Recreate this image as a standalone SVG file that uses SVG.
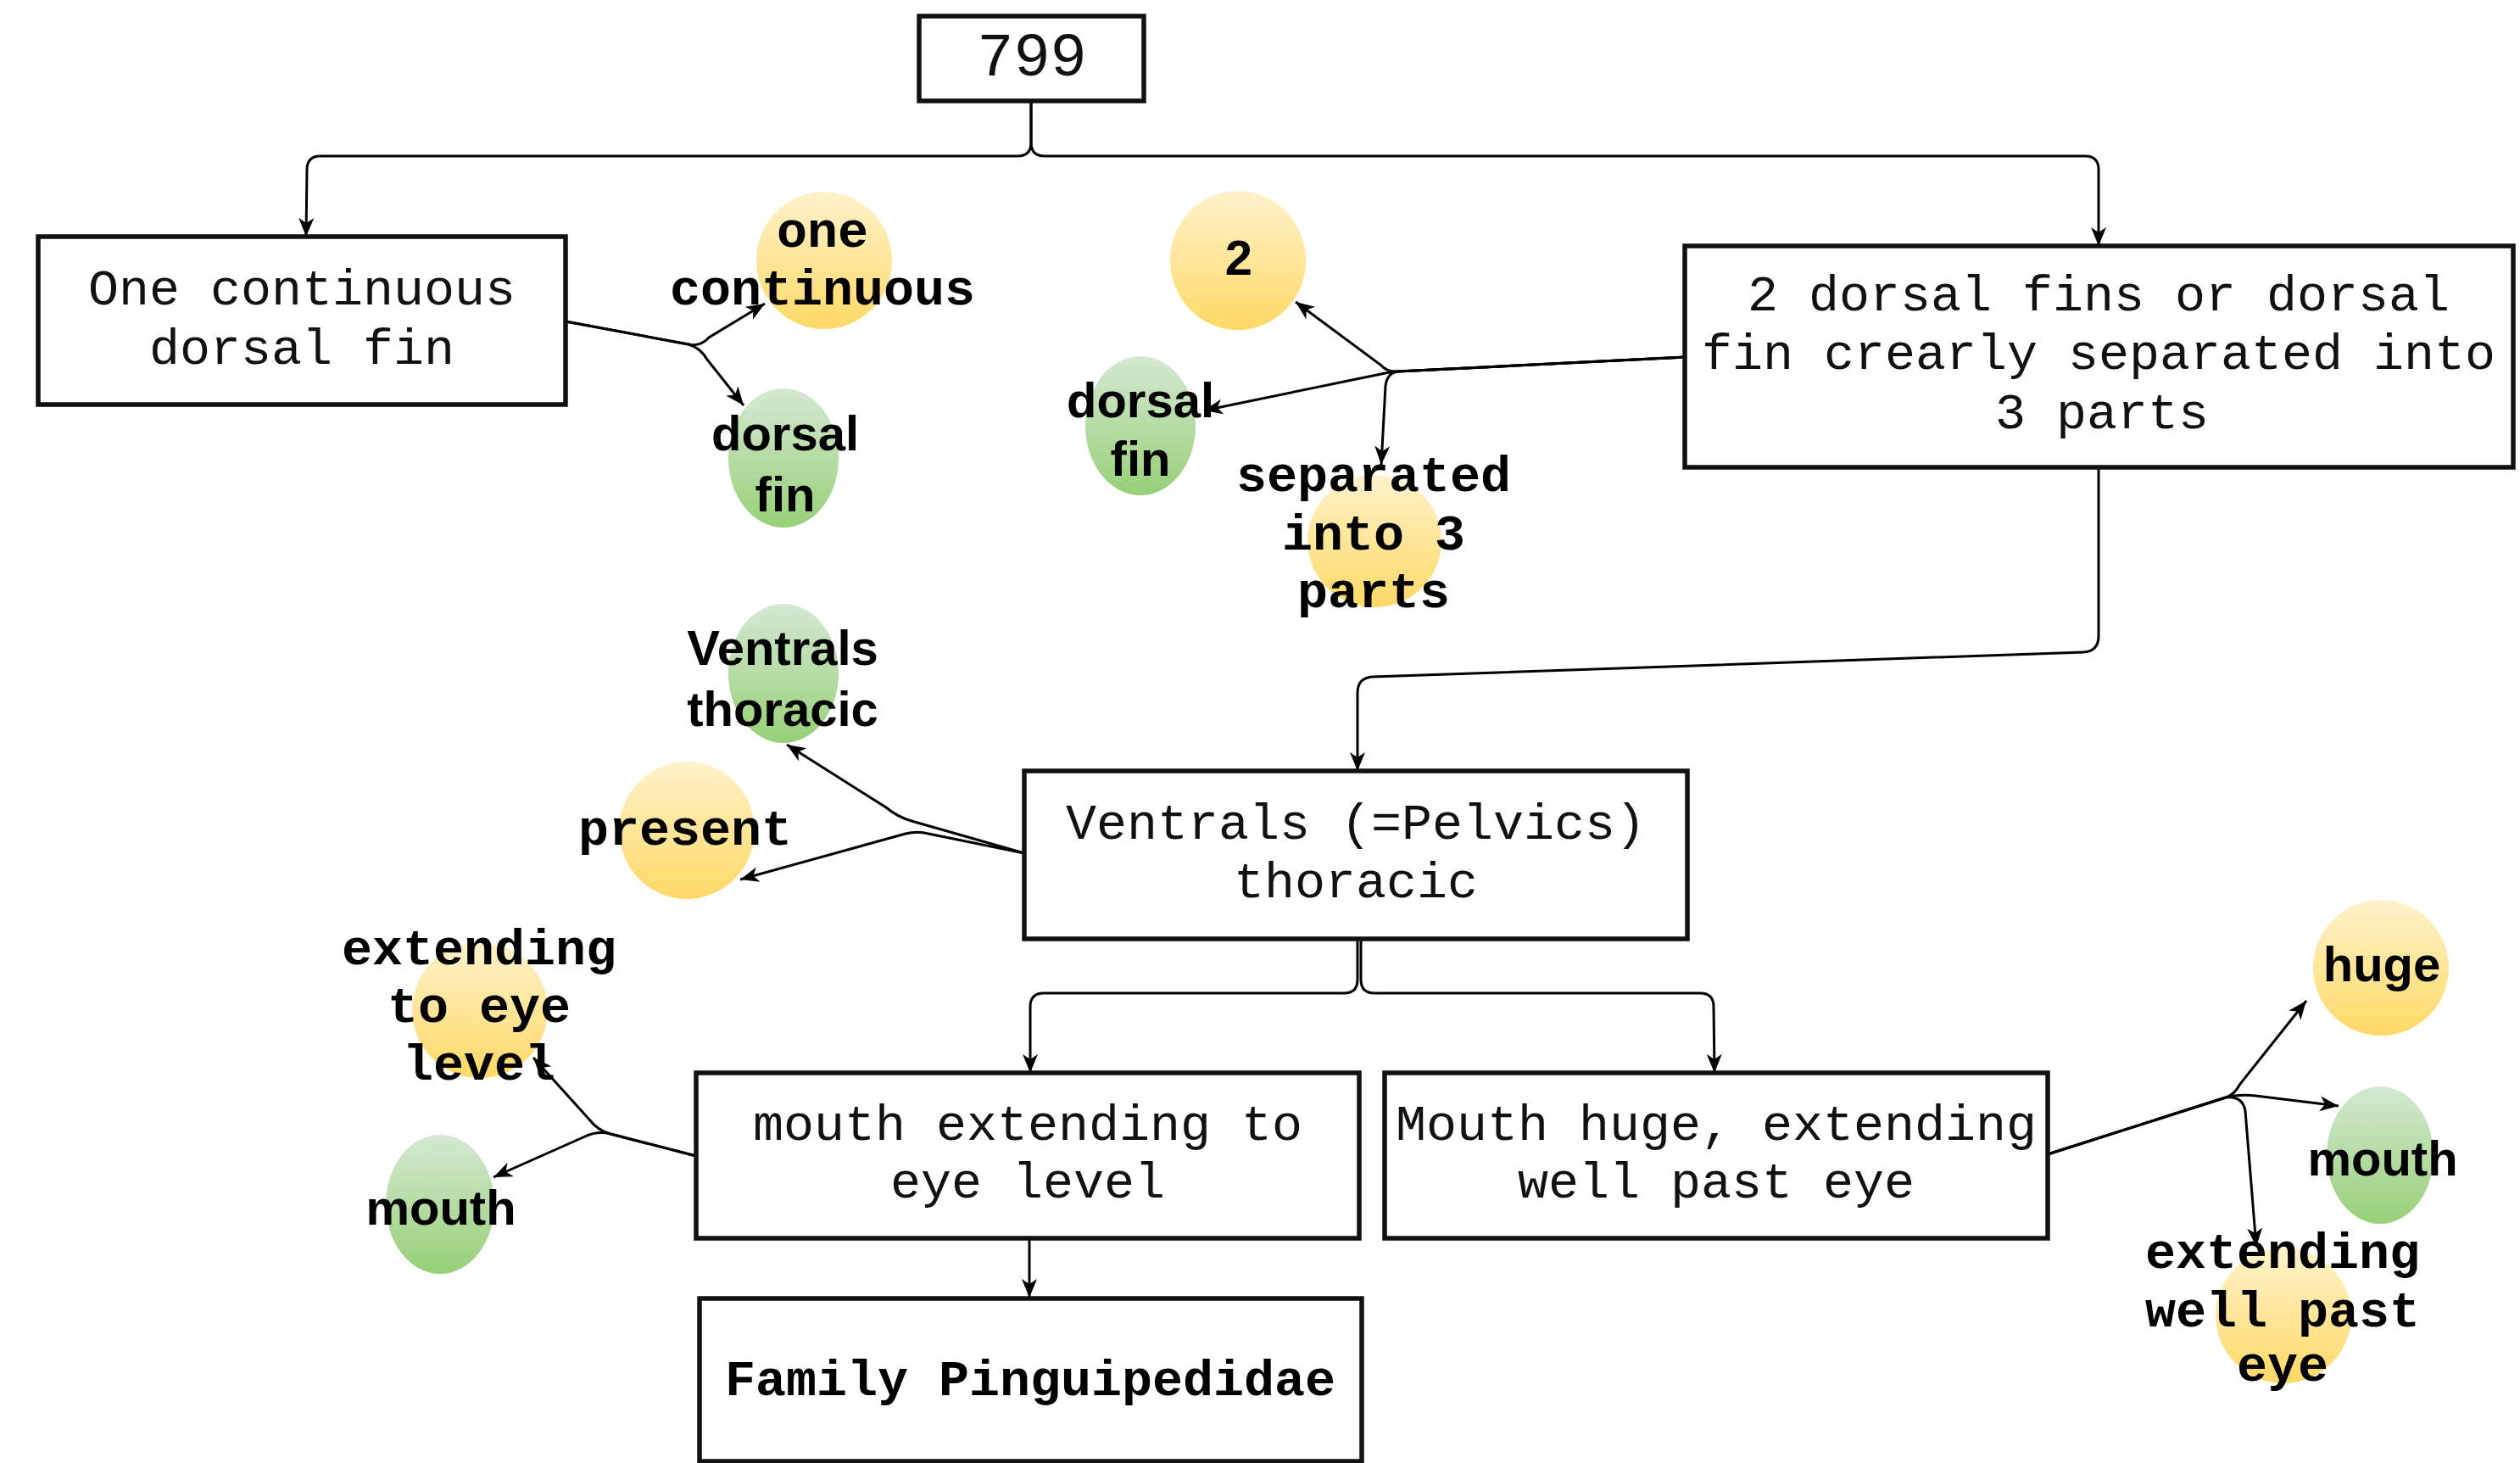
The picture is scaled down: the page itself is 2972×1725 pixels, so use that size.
<svg xmlns="http://www.w3.org/2000/svg" width="2972" height="1725" viewBox="0 0 2972 1725">
<defs>
<linearGradient id="gy" x1="0" y1="0" x2="0" y2="1"><stop offset="0" stop-color="#fff2cc"/><stop offset="1" stop-color="#ffd966"/></linearGradient>
<linearGradient id="gg" x1="0" y1="0" x2="0" y2="1"><stop offset="0" stop-color="#d5e8d4"/><stop offset="1" stop-color="#97d077"/></linearGradient>
<marker id="arr" markerUnits="userSpaceOnUse" markerWidth="24" markerHeight="20" refX="22" refY="9" orient="auto"><path d="M0,0 L22,9 L0,18 L6,9 Z" fill="#000"/></marker>
<style>
.box{fill:#fff;stroke:#111;stroke-width:5.5}
.bt{font-family:"Liberation Mono","DejaVu Sans Mono",monospace;font-size:60px;fill:#111;text-anchor:middle}
.bb{font-family:"Liberation Mono","DejaVu Sans Mono",monospace;font-size:60px;font-weight:bold;fill:#000;text-anchor:middle}
.sb{font-family:"Liberation Sans",Arial,sans-serif;font-size:58px;font-weight:bold;fill:#000;text-anchor:middle}
.c{fill:none;stroke:#000;stroke-width:3}
.y{fill:url(#gy)}
.g{fill:url(#gg)}
</style>
</defs>
<rect width="2972" height="1725" fill="#fff"/>
<g id="connectors">
<path class="c" marker-end="url(#arr)" d="M1216,119 L1216,168 Q1216,184 1200,184 L378,184 Q362,184 362,200 L361,279"/>
<path class="c" marker-end="url(#arr)" d="M1216,119 L1216,168 Q1216,184 1232,184 L2459,184 Q2475,184 2475,200 L2475,290"/>
<path class="c" marker-end="url(#arr)" d="M667,379 L812,406 Q826,409 836,398 L902,358"/>
<path class="c" marker-end="url(#arr)" d="M667,379 L812,406 Q826,410 834,424 L877,478"/>
<path class="c" marker-end="url(#arr)" d="M1988,421 L1648,438 Q1636,439 1628,430 L1528,356"/>
<path class="c" marker-end="url(#arr)" d="M1988,421 L1648,438 Q1636,439 1624,442 L1420,484"/>
<path class="c" marker-end="url(#arr)" d="M1988,421 L1648,438 Q1636,440 1634,455 L1629,548"/>
<path class="c" marker-end="url(#arr)" d="M2475,551 L2475,750 Q2475,768 2457,769 L1619,798 Q1601,799 1601,817 L1601,909"/>
<path class="c" marker-end="url(#arr)" d="M1208,1006 L1075,968 Q1058,963 1045,952 L928,878"/>
<path class="c" marker-end="url(#arr)" d="M1208,1006 L1090,982 Q1080,980 1068,983 L873,1037"/>
<path class="c" marker-end="url(#arr)" d="M1601,1107 L1601,1155 Q1601,1171 1585,1171 L1231,1171 Q1215,1171 1215,1187 L1215,1265"/>
<path class="c" marker-end="url(#arr)" d="M1605,1107 L1605,1155 Q1605,1171 1621,1171 L2005,1171 Q2021,1171 2021,1187 L2022,1265"/>
<path class="c" marker-end="url(#arr)" d="M821,1363 L720,1337 Q705,1333 695,1320 L629,1247"/>
<path class="c" marker-end="url(#arr)" d="M821,1363 L720,1337 Q705,1333 690,1340 L582,1388"/>
<path class="c" marker-end="url(#arr)" d="M1214,1459 L1214,1530"/>
<path class="c" marker-end="url(#arr)" d="M2415,1361 L2625,1294 Q2635,1291 2642,1278 L2720,1180"/>
<path class="c" marker-end="url(#arr)" d="M2415,1361 L2625,1294 Q2640,1290 2660,1292 L2758,1304"/>
<path class="c" marker-end="url(#arr)" d="M2415,1361 L2625,1294 Q2645,1292 2648,1310 L2661,1470"/>
</g>
<g id="n799"><rect class="box" x="1084" y="19" width="265" height="100"/><text class="bt" x="1217" y="89" style="font-size:72px">799</text></g>
<g id="nOne"><rect class="box" x="45" y="279" width="622" height="198"/><text class="bt" x="356" y="359">One continuous</text><text class="bt" x="356" y="429">dorsal fin</text></g>
<g id="nTwo"><rect class="box" x="1987" y="290" width="977" height="261"/><text class="bt" x="2475" y="366">2 dorsal fins or dorsal</text><text class="bt" x="2475" y="435">fin crearly separated into</text><text class="bt" x="2479" y="505">3 parts</text></g>
<g id="nVentrals"><rect class="box" x="1208" y="909" width="782" height="198"/><text class="bt" x="1599" y="989">Ventrals (=Pelvics)</text><text class="bt" x="1599" y="1058">thoracic</text></g>
<g id="nMouthEye"><rect class="box" x="821" y="1265" width="782" height="195"/><text class="bt" x="1212" y="1344">mouth extending to</text><text class="bt" x="1212" y="1412">eye level</text></g>
<g id="nMouthHuge"><rect class="box" x="1633" y="1265" width="782" height="195"/><text class="bt" x="2024" y="1344">Mouth huge, extending</text><text class="bt" x="2024" y="1412">well past eye</text></g>
<g id="nFamily"><rect class="box" x="825" y="1531" width="781" height="192"/><text class="bb" x="1215" y="1645">Family Pinguipedidae</text></g>
<g id="eOneCont"><ellipse class="y" cx="972" cy="307" rx="80" ry="81"/><text class="bb" x="970" y="291">one</text><text class="bb" x="970" y="359">continuous</text></g>
<g id="eDorsal1"><ellipse class="g" cx="924" cy="540" rx="65" ry="82"/><text class="sb" x="926" y="531">dorsal</text><text class="sb" x="926" y="603">fin</text></g>
<g id="eTwo"><ellipse class="y" cx="1460" cy="307" rx="80" ry="82"/><text class="sb" x="1461" y="324">2</text></g>
<g id="eDorsal2"><ellipse class="g" cx="1345" cy="502" rx="65" ry="82"/><text class="sb" x="1345" y="492">dorsal</text><text class="sb" x="1345" y="561">fin</text></g>
<g id="eSep"><ellipse class="y" cx="1621" cy="638" rx="79" ry="78"/><text class="bb" x="1620" y="579">separated</text><text class="bb" x="1620" y="648">into 3</text><text class="bb" x="1620" y="716">parts</text></g>
<g id="eVentrals"><ellipse class="g" cx="924" cy="794" rx="65" ry="82"/><text class="sb" x="923" y="784">Ventrals</text><text class="sb" x="923" y="856">thoracic</text></g>
<g id="ePresent"><ellipse class="y" cx="810" cy="979" rx="80" ry="81"/><text class="bb" x="808" y="996">present</text></g>
<g id="eExtEye"><ellipse class="y" cx="566" cy="1191" rx="80" ry="80"/><text class="bb" x="565" y="1137">extending</text><text class="bb" x="565" y="1205">to eye</text><text class="bb" x="565" y="1273">level</text></g>
<g id="eMouth1"><ellipse class="g" cx="519" cy="1420" rx="64" ry="82"/><text class="sb" x="520" y="1444">mouth</text></g>
<g id="eHuge"><ellipse class="y" cx="2808" cy="1141" rx="80" ry="80"/><text class="sb" x="2809" y="1157">huge</text></g>
<g id="eMouth2"><ellipse class="g" cx="2807" cy="1362" rx="63" ry="81"/><text class="sb" x="2810" y="1386">mouth</text></g>
<g id="eExtPast"><ellipse class="y" cx="2693" cy="1551" rx="80" ry="80"/><text class="bb" x="2692" y="1495">extending</text><text class="bb" x="2692" y="1564">well past</text><text class="bb" x="2692" y="1628">eye</text></g>
</svg>
